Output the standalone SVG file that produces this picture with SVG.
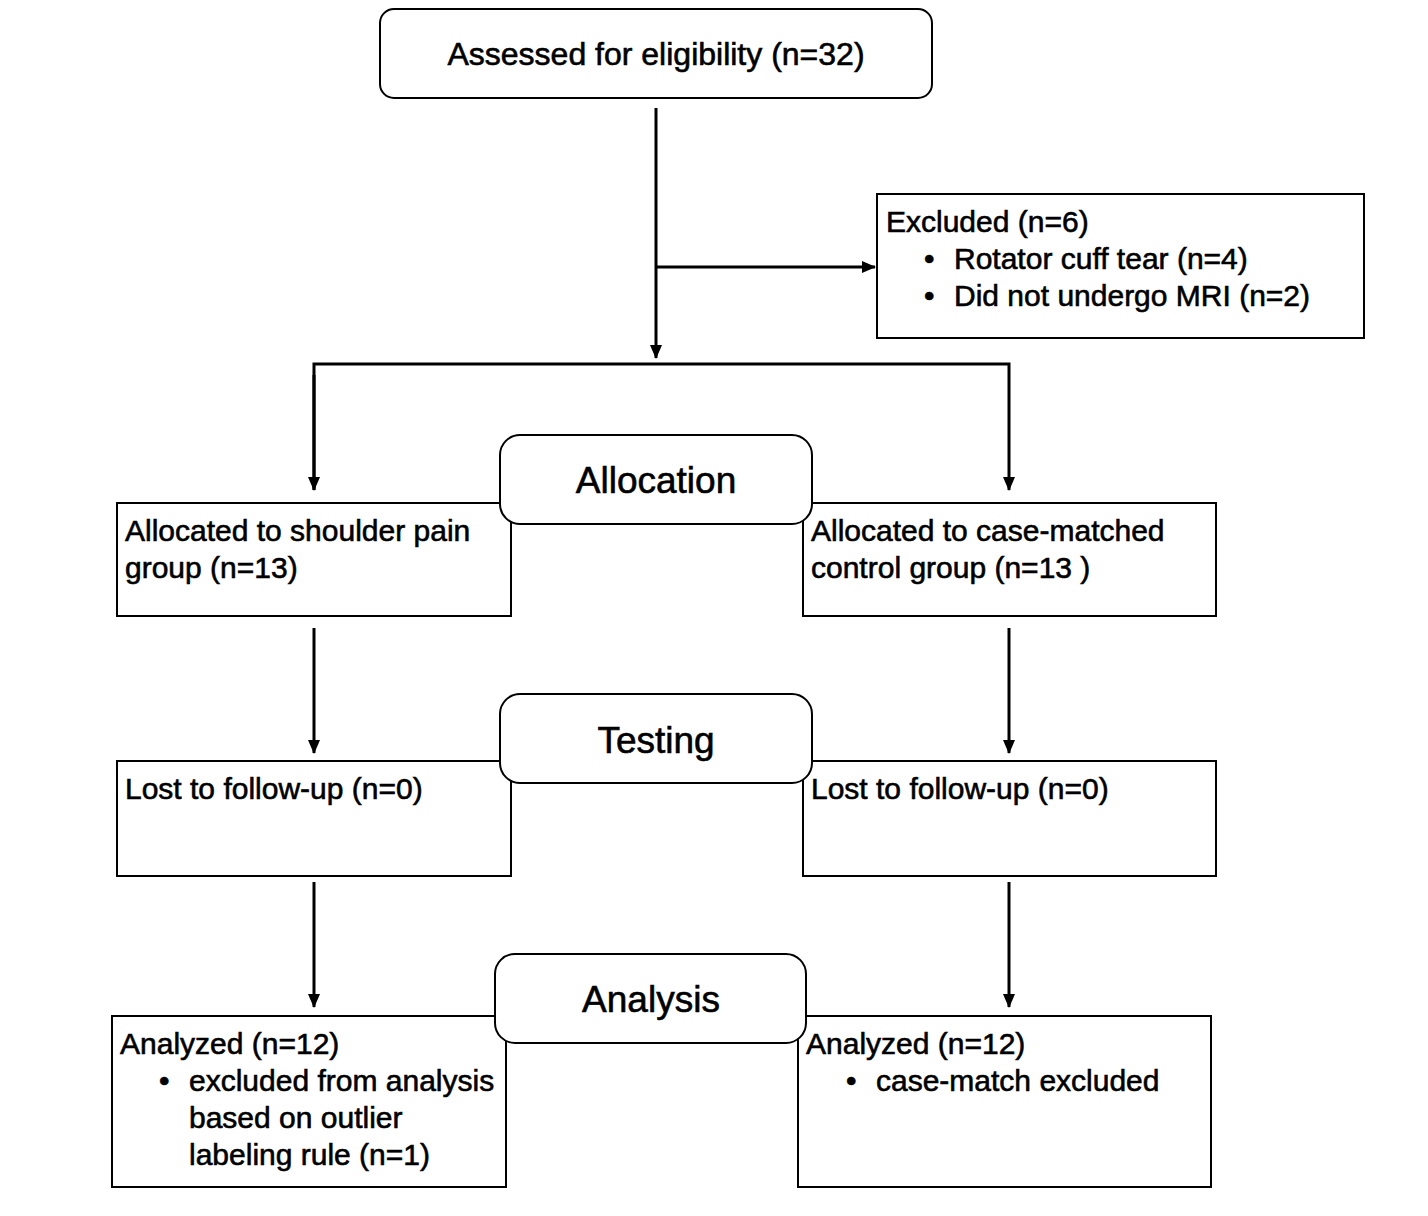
<svg xmlns="http://www.w3.org/2000/svg" width="1428" height="1216" viewBox="0 0 1428 1216">
<style>
.b{fill:#fff;stroke:#000;stroke-width:2}
.t{font-family:"Liberation Sans",Arial,sans-serif;font-size:30px;fill:#000;stroke:#000;stroke-width:0.6}
.h{font-family:"Liberation Sans",Arial,sans-serif;font-size:37px;fill:#000;stroke:#000;stroke-width:0.6;text-anchor:middle}
.c{stroke:#000;stroke-width:3;fill:none}
</style>
<defs><marker id="a" markerWidth="14" markerHeight="14" refX="13" refY="7" orient="auto" markerUnits="userSpaceOnUse"><path d="M0,1 L14,7 L0,13 z"/></marker></defs>
<rect width="1428" height="1216" fill="#fff"/>
<g id="connectors">
<path class="c" d="M656,108 V358" marker-end="url(#a)"/>
<path class="c" d="M656,267 H875" marker-end="url(#a)"/>
<path class="c" d="M314,490 V364 H1009 V490" marker-end="url(#a)"/>
<path class="c" d="M314,375 V490" marker-end="url(#a)"/>
<path class="c" d="M314,628 V753" marker-end="url(#a)"/>
<path class="c" d="M1009,628 V753" marker-end="url(#a)"/>
<path class="c" d="M314,882 V1007" marker-end="url(#a)"/>
<path class="c" d="M1009,882 V1007" marker-end="url(#a)"/>
</g>
<g id="assessed"><rect class="b" x="380" y="9" width="552" height="89" rx="14"/><text class="t" x="656" y="65" text-anchor="middle" style="font-size:32px">Assessed for eligibility (n=32)</text></g>
<g id="excluded"><rect class="b" x="877" y="194" width="487" height="144"/><text class="t" x="886" y="232">Excluded (n=6)</text><text class="t" x="924" y="269">•</text><text class="t" x="954" y="269">Rotator cuff tear (n=4)</text><text class="t" x="924" y="306">•</text><text class="t" x="954" y="306">Did not undergo MRI (n=2)</text></g>
<g id="alloc-left"><rect class="b" x="117" y="503" width="394" height="113"/><text class="t" x="125" y="541">Allocated to shoulder pain</text><text class="t" x="125" y="578">group (n=13)</text></g>
<g id="alloc-right"><rect class="b" x="803" y="503" width="413" height="113"/><text class="t" x="811" y="541">Allocated to case-matched</text><text class="t" x="811" y="578">control group (n=13 )</text></g>
<g id="allocation"><rect class="b" x="500" y="435" width="312" height="89" rx="20"/><text class="h" x="656" y="493">Allocation</text></g>
<g id="lost-left"><rect class="b" x="117" y="761" width="394" height="115"/><text class="t" x="125" y="799">Lost to follow-up (n=0)</text></g>
<g id="lost-right"><rect class="b" x="803" y="761" width="413" height="115"/><text class="t" x="811" y="799">Lost to follow-up (n=0)</text></g>
<g id="testing"><rect class="b" x="500" y="694" width="312" height="89" rx="20"/><text class="h" x="656" y="753">Testing</text></g>
<g id="an-left"><rect class="b" x="112" y="1016" width="394" height="171"/><text class="t" x="120" y="1054">Analyzed (n=12)</text><text class="t" x="159" y="1091">•</text><text class="t" x="189" y="1091">excluded from analysis</text><text class="t" x="189" y="1128">based on outlier</text><text class="t" x="189" y="1165">labeling rule (n=1)</text></g>
<g id="an-right"><rect class="b" x="798" y="1016" width="413" height="171"/><text class="t" x="806" y="1054">Analyzed (n=12)</text><text class="t" x="846" y="1091">•</text><text class="t" x="876" y="1091">case-match excluded</text></g>
<g id="analysis"><rect class="b" x="495" y="954" width="311" height="89" rx="20"/><text class="h" x="651" y="1012">Analysis</text></g>
</svg>
